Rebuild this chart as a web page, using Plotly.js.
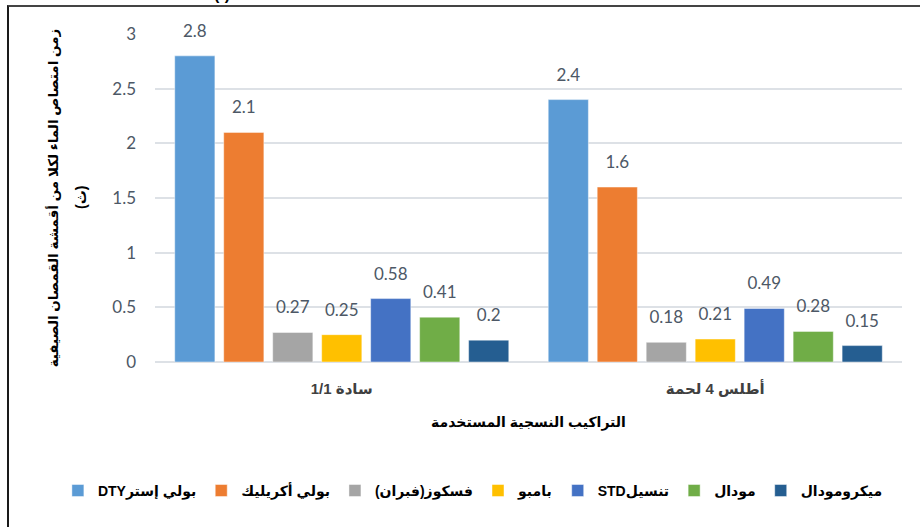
<!DOCTYPE html>
<html>
<head>
<meta charset="utf-8">
<script src="https://cdn.plot.ly/plotly-3.0.1.min.js"></script>
<style>
  html, body { margin: 0; padding: 0; background: #fff; }
  #wrap { position: relative; width: 920px; height: 527px; overflow: hidden; }
  #chart { width: 920px; height: 527px; }
  #frame { position: absolute; left: 7px; top: 5px; width: 960px; height: 600px;
           border-left: 2px solid #1a1a1a; border-top: 2px solid #444; pointer-events: none; }
</style>
</head>
<body>
<div id="wrap">
  <div id="chart"></div>
  <div id="frame"></div>
</div>
<script>
// ---- data ----
const categories = ['سادة 1/1', 'أطلس 4 لحمة'];
const seriesNames = ['بولي إسترDTY', 'بولي أكريليك', 'فسكوز(فبران)', 'بامبو', 'تنسيلSTD', 'مودال', 'ميكرومودال'];
const polyesterDTY = [2.8, 2.4];
const polyAcrylic  = [2.1, 1.6];
const viscose      = [0.27, 0.18];
const bamboo       = [0.25, 0.21];
const tencelSTD    = [0.58, 0.49];
const modal        = [0.41, 0.28];
const microModal   = [0.2, 0.15];
const seriesColors = ['#5B9BD5', '#ED7D31', '#A5A5A5', '#FFC000', '#4472C4', '#70AD47', '#255E91'];
const yTickVals = [0, 0.5, 1, 1.5, 2, 2.5, 3];
const yTitleLine1 = 'زمن امتصاص الماء لكلا من أقمشة القمصان الصيفية';
const yTitleLine2 = '(ث)';
const xTitle = 'التراكيب النسجية المستخدمة';

const seriesValues = [polyesterDTY, polyAcrylic, viscose, bamboo, tencelSTD, modal, microModal];

const rtl = s => '\u202B' + s + '\u202C';
const xCats = categories.map(rtl);

const GAP = 0.082;
const numFont = 'Lato, "Open Sans", sans-serif';
const arFont = '"Liberation Sans", "DejaVu Sans", sans-serif';

const traces = [];
seriesValues.forEach((vals, i) => {
  traces.push({
    type: 'bar',
    name: rtl(seriesNames[i]),
    x: xCats,
    y: vals,
    marker: { color: seriesColors[i], line: { color: 'rgba(255,255,255,0.45)', width: 1 } },
    hoverinfo: 'skip'
  });
});
seriesValues.forEach((vals, i) => {
  traces.push({
    type: 'scatter',
    mode: 'markers+text',
    x: xCats,
    y: vals,
    text: vals.map(v => String(v)),
    textposition: 'top center',
    textfont: { family: numFont, size: 17, color: '#4D5866' },
    marker: { size: 22, color: 'rgba(0,0,0,0)' },
    showlegend: false,
    cliponaxis: false,
    hoverinfo: 'skip'
  });
});

const layout = {
  width: 920, height: 527,
  margin: { l: 155, r: 18, t: 34, b: 165 },
  paper_bgcolor: '#fff', plot_bgcolor: '#fff',
  barmode: 'group',
  bargap: GAP,
  bargroupgap: 0.18,
  scattermode: 'group',
  scattergap: GAP,
  showlegend: true,
  legend: {
    orientation: 'h',
    x: -0.13, xanchor: 'left', y: -0.393, yanchor: 'middle',
    font: { family: arFont, size: 14, color: '#000', weight: 'bold' },
    itemwidth: 30,
    traceorder: 'normal', itemclick: false, itemdoubleclick: false
  },
  xaxis: {
    type: 'category',
    showgrid: false, zeroline: false, showline: false,
    ticks: '', ticklabelstandoff: 16,
    tickfont: { family: arFont, size: 15, color: '#404040', weight: 'bold' },
    title: { text: rtl(xTitle), standoff: 21,
             font: { family: arFont, size: 14, color: '#000', weight: 'bold' } }
  },
  yaxis: {
    range: [0, 3], tickvals: yTickVals, ticktext: yTickVals.map(String),
    showgrid: true, gridcolor: '#DDE1E6', gridwidth: 2,
    zeroline: true, zerolinecolor: '#DDE1E6', zerolinewidth: 2,
    showline: false, ticks: '', ticklabelstandoff: 18,
    tickfont: { family: numFont, size: 17, color: '#4D5866' },
    title: { text: yTitleLine1, standoff: 50,
             font: { family: arFont, size: 13.5, color: '#000', weight: 'bold' } }
  },
  annotations: [{
    xref: 'paper', yref: 'paper', x: 0.09, y: 1.125, xanchor: 'center', yanchor: 'middle',
    text: rtl('(أ)'), showarrow: false,
    font: { family: arFont, size: 16, color: '#000', weight: 'bold' }
  }, {
    xref: 'paper', yref: 'paper', x: (81 - 155) / 747, y: 0.5, xanchor: 'center', yanchor: 'middle',
    text: yTitleLine2, textangle: -90, showarrow: false,
    font: { family: arFont, size: 14, color: '#000', weight: 'bold' }
  }]
};

Plotly.newPlot('chart', traces, layout, { staticPlot: true, displayModeBar: false });
</script>
</body>
</html>
